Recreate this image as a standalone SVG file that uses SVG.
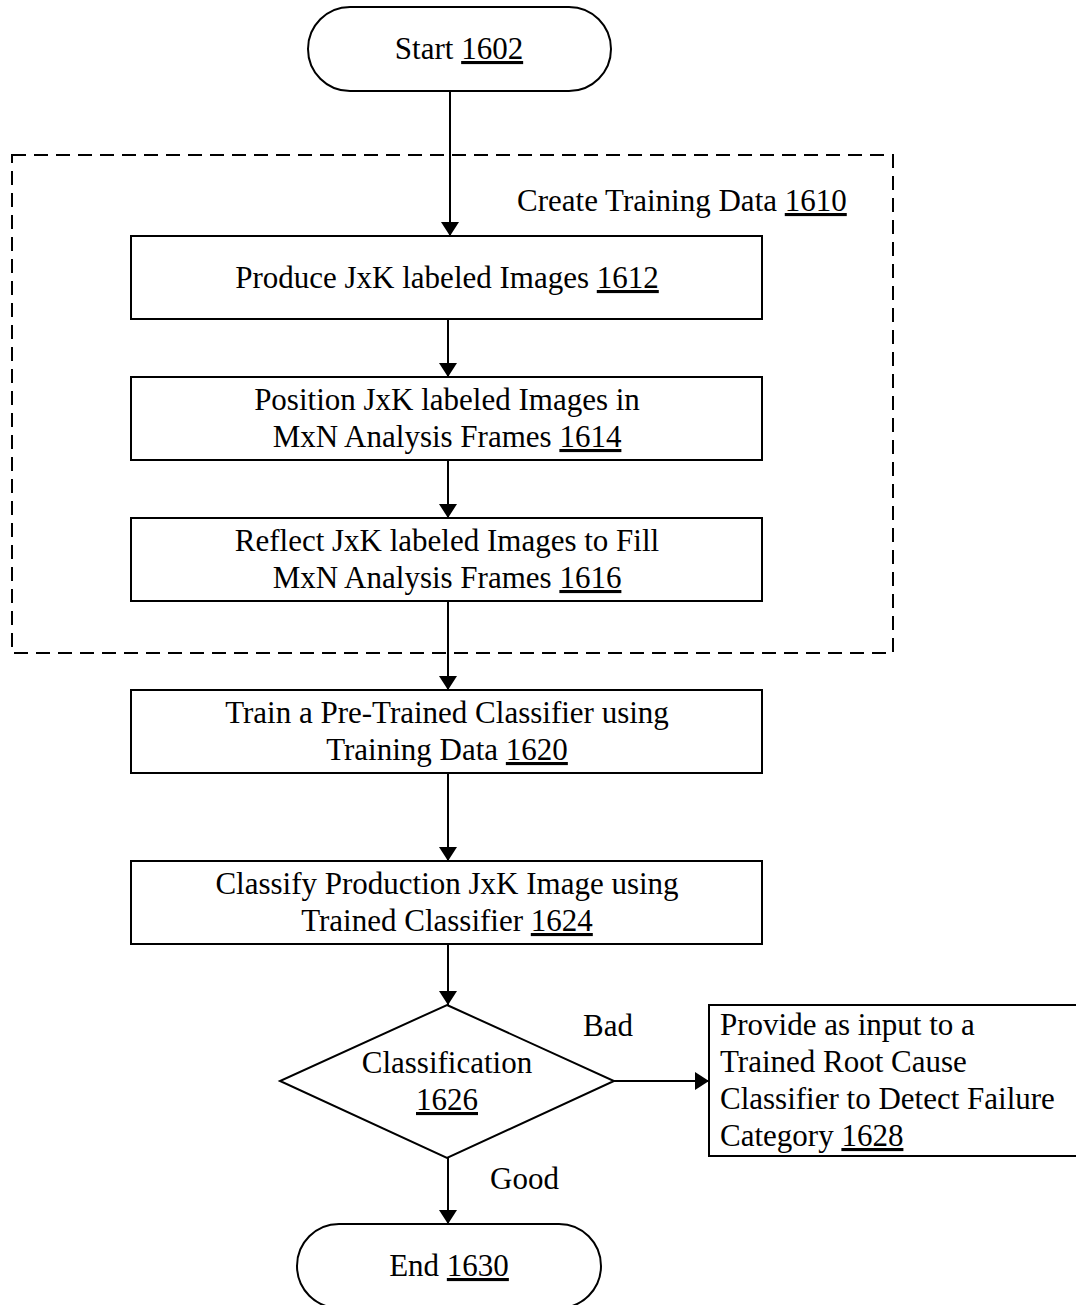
<svg xmlns="http://www.w3.org/2000/svg" width="1076" height="1305" viewBox="0 0 1076 1305">
<style>
.b{fill:#fff;stroke:#000;stroke-width:2}
.t{font-family:"Liberation Serif","Times New Roman",serif;font-size:31px;fill:#000}
.m{text-anchor:middle}
.u{text-decoration:underline}
.c{stroke:#000;stroke-width:2;fill:none}
</style>
<defs>
<marker id="ah" markerWidth="14" markerHeight="18" refX="14" refY="9" orient="auto" markerUnits="userSpaceOnUse">
<path d="M0,0 L14,9 L0,18 Z" fill="#000"/>
</marker>
</defs>
<rect width="1076" height="1305" fill="#fff"/>
<g id="group1610">
<rect x="12" y="155" width="881" height="498" fill="none" stroke="#000" stroke-width="2" stroke-dasharray="14,8"/>
<text class="t" x="517" y="211">Create Training Data <tspan class="u">1610</tspan></text>
</g>
<g id="connectors">
<line class="c" x1="450" y1="91" x2="450" y2="236" marker-end="url(#ah)"/>
<line class="c" x1="448" y1="319" x2="448" y2="377" marker-end="url(#ah)"/>
<line class="c" x1="448" y1="460" x2="448" y2="518" marker-end="url(#ah)"/>
<line class="c" x1="448" y1="601" x2="448" y2="690" marker-end="url(#ah)"/>
<line class="c" x1="448" y1="773" x2="448" y2="861" marker-end="url(#ah)"/>
<line class="c" x1="448" y1="944" x2="448" y2="1005" marker-end="url(#ah)"/>
<line class="c" x1="614" y1="1081" x2="709" y2="1081" marker-end="url(#ah)"/>
<line class="c" x1="448" y1="1158" x2="448" y2="1224" marker-end="url(#ah)"/>
<text class="t" x="583" y="1036">Bad</text>
<text class="t" x="490" y="1189">Good</text>
</g>
<g id="n1602">
<rect class="b" x="308" y="7" width="303" height="84" rx="42"/>
<text class="t m" x="459" y="59">Start <tspan class="u">1602</tspan></text>
</g>
<g id="n1612">
<rect class="b" x="131" y="236" width="631" height="83"/>
<text class="t m" x="447" y="288">Produce JxK labeled Images <tspan class="u">1612</tspan></text>
</g>
<g id="n1614">
<rect class="b" x="131" y="377" width="631" height="83"/>
<text class="t m" x="447" y="410">Position JxK labeled Images in</text>
<text class="t m" x="447" y="447">MxN Analysis Frames <tspan class="u">1614</tspan></text>
</g>
<g id="n1616">
<rect class="b" x="131" y="518" width="631" height="83"/>
<text class="t m" x="447" y="551">Reflect JxK labeled Images to Fill</text>
<text class="t m" x="447" y="588">MxN Analysis Frames <tspan class="u">1616</tspan></text>
</g>
<g id="n1620">
<rect class="b" x="131" y="690" width="631" height="83"/>
<text class="t m" x="447" y="723">Train a Pre-Trained Classifier using</text>
<text class="t m" x="447" y="760">Training Data <tspan class="u">1620</tspan></text>
</g>
<g id="n1624">
<rect class="b" x="131" y="861" width="631" height="83"/>
<text class="t m" x="447" y="894">Classify Production JxK Image using</text>
<text class="t m" x="447" y="931">Trained Classifier <tspan class="u">1624</tspan></text>
</g>
<g id="n1626">
<polygon class="b" points="447,1005 614,1081 447,1158 280,1081"/>
<text class="t m" x="447" y="1073">Classification</text>
<text class="t m" x="447" y="1110"><tspan class="u">1626</tspan></text>
</g>
<g id="n1628">
<rect class="b" x="709" y="1005" width="370" height="151"/>
<text class="t" x="720" y="1035">Provide as input to a</text>
<text class="t" x="720" y="1072">Trained Root Cause</text>
<text class="t" x="720" y="1109">Classifier to Detect Failure</text>
<text class="t" x="720" y="1146">Category <tspan class="u">1628</tspan></text>
</g>
<g id="n1630">
<rect class="b" x="297" y="1224" width="304" height="84" rx="42"/>
<text class="t m" x="449" y="1276">End <tspan class="u">1630</tspan></text>
</g>
</svg>
